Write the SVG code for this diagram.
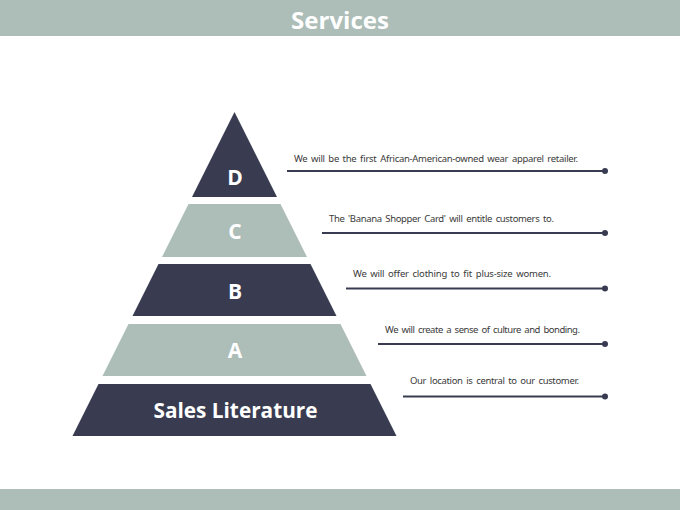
<svg xmlns="http://www.w3.org/2000/svg" width="680" height="510" viewBox="0 0 680 510">
  <style>
    .bar { fill: #adbdb8; }
    .dark { fill: #393c51; }
    .light { fill: #adbdb8; }
    .lvl { font-family: "Open Sans", "Noto Sans", "DejaVu Sans", sans-serif; font-weight: bold; fill: #ffffff; text-anchor: middle; }
    .title { font-family: "Open Sans", "Noto Sans", "DejaVu Sans", sans-serif; font-weight: bold; fill: #ffffff; font-size: 24px; text-anchor: middle; }
    .desc { font-family: "Noto Sans", "DejaVu Sans", sans-serif; font-size: 9.5px; fill: #3a3a3a; word-spacing: 1.5px; }
    .conn { stroke: #393c51; stroke-width: 2; fill: none; }
    .dot { fill: #393c51; }
  </style>
  <rect width="680" height="510" fill="#ffffff"/>
  <g id="header">
    <rect class="bar" x="0" y="0" width="680" height="36"/>
    <text class="title" x="340" y="29" textLength="98" lengthAdjust="spacingAndGlyphs">Services</text>
  </g>
  <g id="footer">
    <rect class="bar" x="0" y="489" width="680" height="21"/>
  </g>

  <g id="level-D">
    <polygon class="dark" points="234.5,112 277,197 192,197"/>
    <text class="lvl" x="235" y="185" font-size="21">D</text>
  </g>
  <g id="level-C">
    <polygon class="light" points="188.5,204 280.5,204 307,257 162,257"/>
    <text class="lvl" x="235" y="238.5" font-size="21">C</text>
  </g>
  <g id="level-B">
    <polygon class="dark" points="158.5,264 310.5,264 336.5,316 132.5,316"/>
    <text class="lvl" x="235" y="299" font-size="21">B</text>
  </g>
  <g id="level-A">
    <polygon class="light" points="128.5,324 340.5,324 366.5,376 102.5,376"/>
    <text class="lvl" x="235" y="358" font-size="21">A</text>
  </g>
  <g id="level-sales">
    <polygon class="dark" points="98.5,384 370.5,384 396.5,436 72.5,436"/>
    <text class="lvl" x="235.5" y="417.5" font-size="21" textLength="164" lengthAdjust="spacingAndGlyphs">Sales Literature</text>
  </g>

  <g id="descriptions">
    <text class="desc" x="294" y="161.5" textLength="284" lengthAdjust="spacing">We will be the first African-American-owned wear apparel retailer.</text>
    <text class="desc" x="329" y="221.5" textLength="225" lengthAdjust="spacing">The 'Banana Shopper Card' will entitle customers to.</text>
    <text class="desc" x="353" y="276.5" textLength="198" lengthAdjust="spacing">We will offer clothing to fit plus-size women.</text>
    <text class="desc" x="385" y="332.5" textLength="195" lengthAdjust="spacing">We will create a sense of culture and bonding.</text>
    <text class="desc" x="410" y="383.5" textLength="169" lengthAdjust="spacing">Our location is central to our customer.</text>
  </g>

  <g id="connectors">
    <line class="conn" x1="287" y1="171" x2="605" y2="171"/>
    <circle class="dot" cx="605" cy="171" r="3"/>
    <line class="conn" x1="322" y1="233" x2="605" y2="233"/>
    <circle class="dot" cx="605" cy="233" r="3"/>
    <line class="conn" x1="346" y1="288.5" x2="605" y2="288.5"/>
    <circle class="dot" cx="605" cy="288.5" r="3"/>
    <line class="conn" x1="378" y1="344" x2="605" y2="344"/>
    <circle class="dot" cx="605" cy="344" r="3"/>
    <line class="conn" x1="403" y1="396.5" x2="605" y2="396.5"/>
    <circle class="dot" cx="605" cy="396.5" r="3"/>
  </g>
</svg>
